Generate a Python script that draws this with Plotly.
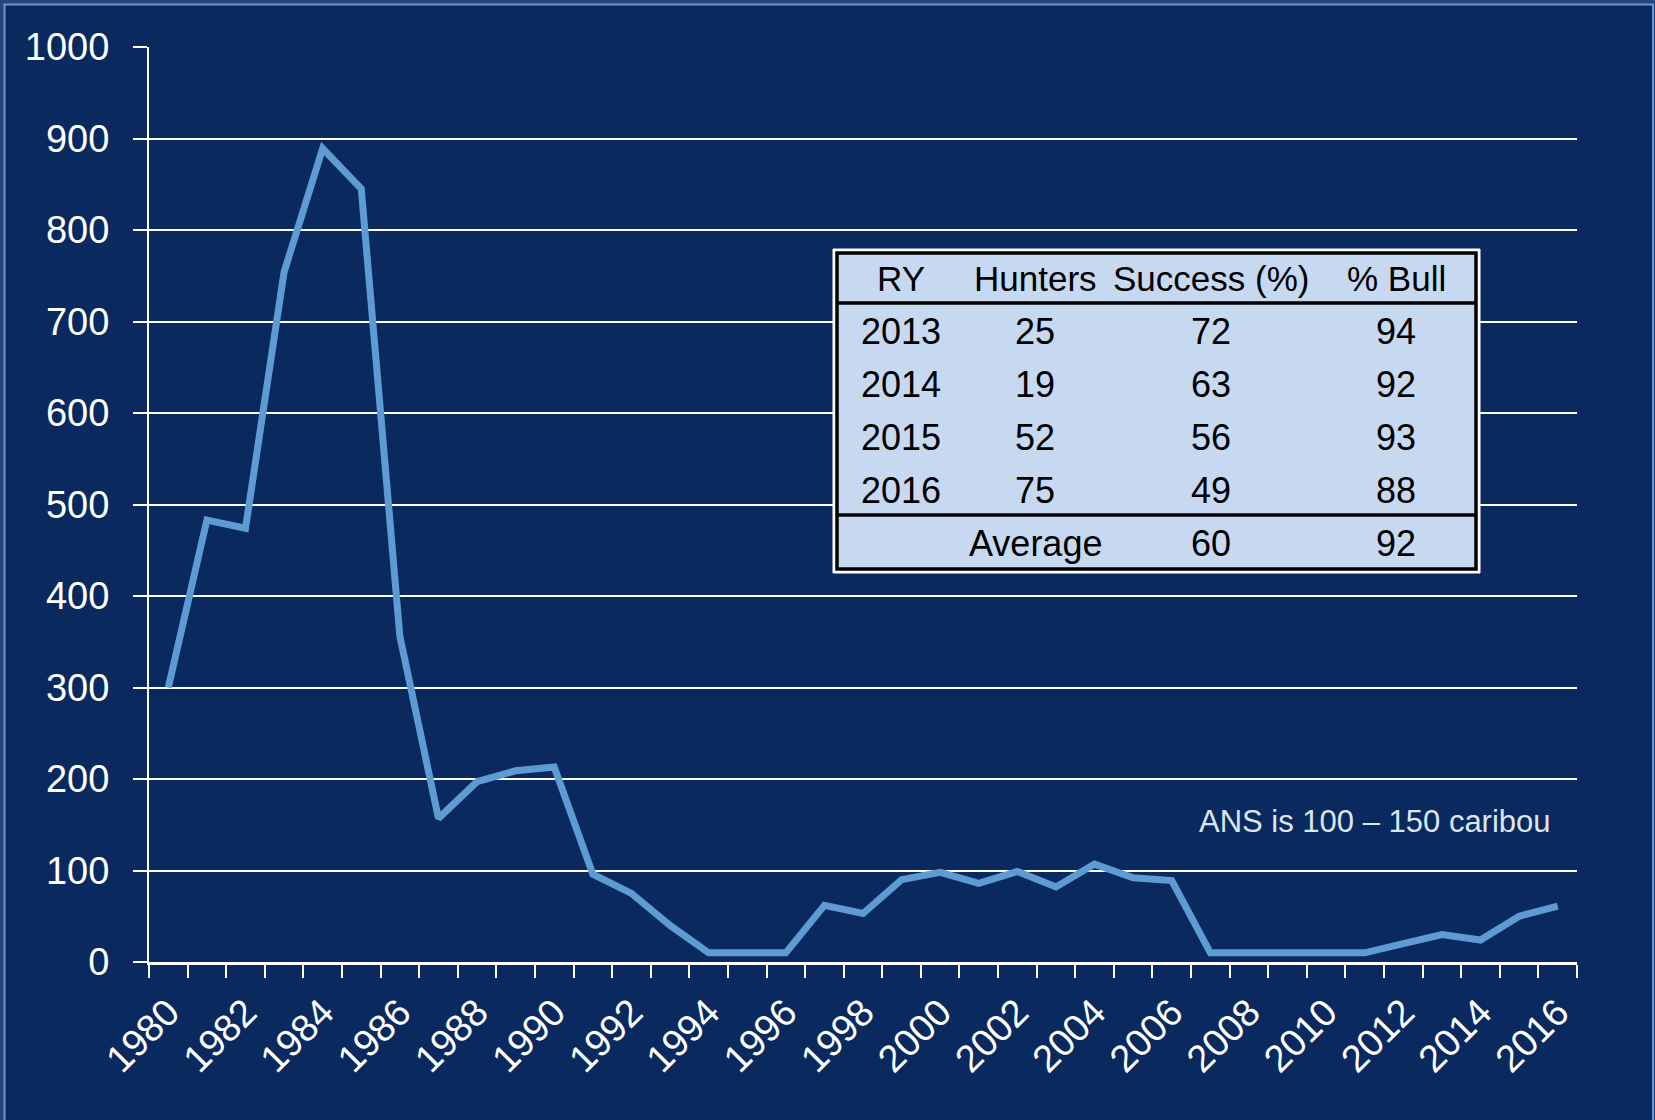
import plotly.graph_objects as go

# ---------------- data ----------------
years = list(range(1980, 2017))
harvest = [300, 483, 474, 754, 889, 845, 356, 157, 197, 209, 213, 96, 75, 40,
           10, 10, 10, 62, 53, 90, 98, 86, 99, 82, 107, 92, 89,
           10, 10, 10, 10, 10, 20, 30, 24, 50, 61]
y_ticks = [0, 100, 200, 300, 400, 500, 600, 700, 800, 900, 1000]

tbl_header = ["RY", "Hunters", "Success (%)", "% Bull"]
tbl_ry = ["2013", "2014", "2015", "2016"]
tbl_hunters = ["25", "19", "52", "75"]
tbl_success = ["72", "63", "56", "49"]
tbl_bull = ["94", "92", "93", "88"]
tbl_avg_label = "Average"
tbl_avg_success = "60"
tbl_avg_bull = "92"
note_text = "ANS is 100 \u2013 150 caribou"

# ---------------- layout geometry (pixels) ----------------
W, H = 1655, 1120
PL, PR, PT, PB = 149, 1577, 47, 962   # plot area in pixels


def px(x):
    return (x - PL) / (PR - PL)


def py(y):
    return (PB - y) / (PB - PT)


NAVY = "#0A2A5F"
FONT = "Liberation Sans, Arial, sans-serif"

fig = go.Figure()
fig.add_trace(go.Scatter(
    x=years, y=harvest, mode="lines",
    line=dict(color="#5E9BD3", width=7, shape="linear"),
    hoverinfo="x+y", showlegend=False,
))

shapes = []
# outer frame
shapes.append(dict(type="rect", xref="paper", yref="paper", layer="below",
                   x0=px(4.5), x1=px(1653), y0=py(4.5), y1=py(1135),
                   fillcolor=NAVY, line=dict(color="#6495D6", width=2)))

# table
tx0, tx1, ty0, ty1 = 833, 1480, 249, 573
shapes.append(dict(type="rect", xref="paper", yref="paper",
                   x0=px(tx0), x1=px(tx1), y0=py(ty0), y1=py(ty1),
                   fillcolor="white", line=dict(color="white", width=1)))
shapes.append(dict(type="rect", xref="paper", yref="paper",
                   x0=px(tx0 + 4), x1=px(tx1 - 4), y0=py(ty0 + 4), y1=py(ty1 - 4),
                   fillcolor="#C6D9F1", line=dict(color="black", width=3.5)))
for yy in (303, 515):
    shapes.append(dict(type="line", xref="paper", yref="paper",
                       x0=px(tx0 + 4), x1=px(tx1 - 4), y0=py(yy), y1=py(yy),
                       line=dict(color="black", width=3.5)))

annotations = []
col_x = [901, 1035, 1211, 1396]
row_y = [331, 384, 437, 490]
TFONT = dict(family=FONT, size=36, color="black")
for cx, t in zip(col_x, tbl_header):
    annotations.append(dict(xref="paper", yref="paper", x=px(cx), y=py(278),
                            text=t, showarrow=False, xanchor="center", yanchor="middle",
                            font=dict(family=FONT, size=35, color="black")))
for i, ry in enumerate(tbl_ry):
    for cx, t in zip(col_x, [ry, tbl_hunters[i], tbl_success[i], tbl_bull[i]]):
        annotations.append(dict(xref="paper", yref="paper", x=px(cx), y=py(row_y[i]),
                                text=t, showarrow=False, xanchor="center", yanchor="middle",
                                font=TFONT))
for cx, t in zip(col_x[1:], [tbl_avg_label, tbl_avg_success, tbl_avg_bull]):
    annotations.append(dict(xref="paper", yref="paper", x=px(cx), y=py(543),
                            text=t, showarrow=False, xanchor="center", yanchor="middle",
                            font=TFONT))

annotations.append(dict(xref="paper", yref="paper", x=px(1553), y=py(821),
                        text=note_text, showarrow=False, xanchor="right", yanchor="middle",
                        font=dict(family=FONT, size=31, color="#DCE6F2")))

fig.update_layout(
    width=W, height=H,
    margin=dict(l=PL, r=W - PR, t=PT, b=H - PB, pad=0, autoexpand=False),
    paper_bgcolor="#2A4477",
    plot_bgcolor="rgba(0,0,0,0)",
    shapes=shapes,
    annotations=annotations,
    showlegend=False,
)

fig.update_xaxes(
    automargin=False,
    range=[years[0] - 0.5, years[-1] + 0.5],
    tickvals=years[::2], ticktext=[str(y) for y in years[::2]],
    tickangle=-45, ticks="", showgrid=False, zeroline=False,
    showline=True, linecolor="white", linewidth=2.5,
    tickfont=dict(family=FONT, size=38, color="white"),
    ticklabelstandoff=10,
    minor=dict(ticks="outside", ticklen=13, tickwidth=2, tickcolor="white",
               tick0=years[0] - 0.5, dtick=1, showgrid=False),
)
fig.update_yaxes(
    automargin=False,
    range=[0, 1000], tickvals=y_ticks,
    ticks="outside", ticklen=14, tickwidth=2, tickcolor="white",
    showgrid=True, gridcolor="white", gridwidth=1.5, zeroline=False,
    showline=True, linecolor="white", linewidth=2,
    tickfont=dict(family=FONT, size=38, color="white"),
    ticklabelstandoff=16,
)

fig.write_html("out.html", config={"displayModeBar": False},
               post_script="document.body.style.margin='0px';")
